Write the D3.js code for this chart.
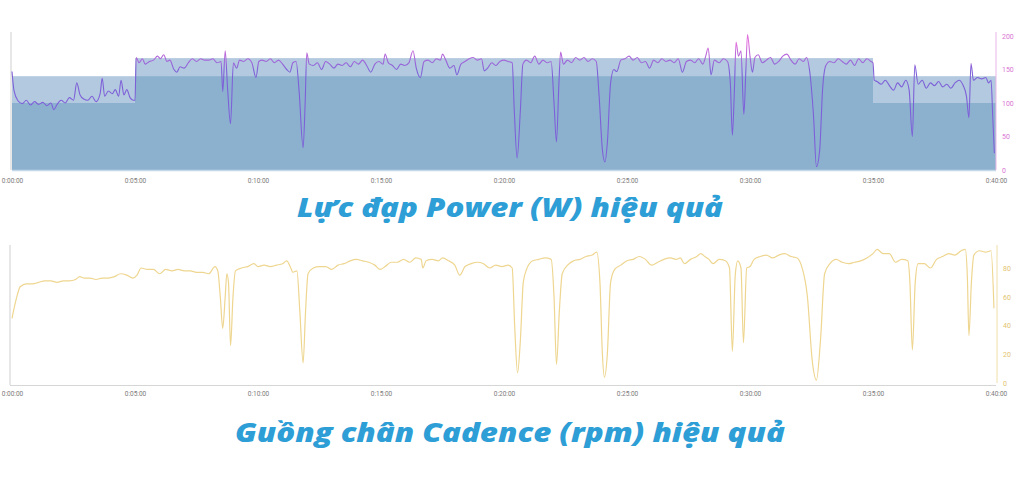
<!DOCTYPE html>
<html>
<head>
<meta charset="utf-8">
<script src="https://cdn.jsdelivr.net/npm/d3@7"></script>
<style>
  body { margin: 0; background: #fff; }
  svg { display: block; }
</style>
</head>
<body>
<svg id="chart" width="1024" height="480"></svg>
<script>
// tick labels for the time axis (shared by both charts)
const timeTicks = ["0:00:00", "0:05:00", "0:10:00", "0:15:00", "0:20:00", "0:25:00", "0:30:00", "0:35:00", "0:40:00"];
const powerTicks = [0, 50, 100, 150, 200];
const cadenceTicks = [0, 20, 40, 60, 80];

// target zones of the workout (minutes, watts)
const zoneStart = [0, 5, 35];
const zoneEnd = [5, 35, 40];
const zoneLow = [100, 140, 100];
const zoneHigh = [140, 167, 140];

// power samples: [m:ss, watts]
const power = [
  ["0:00",147],["0:05",118],["0:15",103],["0:25",99],["0:35",104],["0:45",97],["0:55",102],["1:05",98],["1:15",101],
  ["1:25",96],["1:35",100],["1:42",90],["1:50",98],["2:00",104],["2:10",100],["2:20",108],["2:30",104],["2:38",130],
  ["2:46",112],["2:55",106],["3:05",104],["3:15",110],["3:25",102],["3:35",114],["3:40",137],["3:46",110],["3:55",118],
  ["4:05",114],["4:12",120],["4:20",110],["4:26",134],["4:33",112],["4:40",120],["4:48",108],["4:56",104],["5:00",104],
  ["5:03",168],["5:10",160],["5:18",166],["5:25",158],["5:35",162],["5:45",164],["5:55",170],["6:02",166],["6:10",172],
  ["6:18",162],["6:25",164],["6:35",150],["6:42",146],["6:50",154],["7:00",152],["7:10",160],["7:20",166],["7:30",162],
  ["7:40",166],["7:50",164],["8:00",164],["8:10",166],["8:20",160],["8:30",162],["8:34",117],["8:40",178],["8:46",120],
  ["8:53",69],["9:00",160],["9:08",152],["9:15",164],["9:25",162],["9:35",166],["9:45",160],["9:55",138],["10:02",162],
  ["10:10",164],["10:20",162],["10:30",166],["10:40",160],["10:50",164],["11:00",158],["11:10",150],["11:18",146],
  ["11:25",160],["11:33",162],["11:40",120],["11:50",33],["11:55",100],["11:59",175],["12:05",158],["12:15",156],
  ["12:25",160],["12:35",150],["12:45",162],["12:55",158],["13:05",152],["13:15",158],["13:25",156],["13:35",160],
  ["13:45",154],["13:55",162],["14:05",158],["14:15",164],["14:25",156],["14:35",146],["14:45",158],["14:55",162],
  ["15:05",158],["15:10",173],["15:18",160],["15:28",156],["15:38",150],["15:48",158],["15:58",156],["16:08",160],
  ["16:18",178],["16:26",152],["16:36",138],["16:45",162],["16:55",164],["17:05",160],["17:15",166],["17:25",164],
  ["17:30",173],["17:38",164],["17:48",152],["17:58",156],["18:05",142],["18:15",158],["18:25",162],["18:35",166],
  ["18:45",168],["18:55",164],["19:05",166],["19:12",148],["19:20",152],["19:30",160],["19:40",156],["19:50",162],
  ["20:00",164],["20:10",162],["20:20",160],["20:25",90],["20:32",18],["20:40",90],["20:46",158],["20:55",164],
  ["21:05",160],["21:15",170],["21:25",158],["21:35",164],["21:45",160],["21:55",162],["22:02",100],["22:08",42],
  ["22:14",130],["22:18",176],["22:25",158],["22:35",164],["22:45",160],["22:55",168],["23:05",164],["23:15",168],
  ["23:25",162],["23:35",166],["23:45",162],["23:52",110],["24:00",30],["24:06",12],["24:12",40],["24:20",130],
  ["24:28",150],["24:35",147],["24:45",164],["24:55",166],["25:05",170],["25:15",164],["25:25",168],["25:35",160],
  ["25:45",162],["25:55",152],["26:05",164],["26:15",160],["26:25",166],["26:35",162],["26:45",164],["26:55",160],
  ["27:05",166],["27:15",146],["27:25",162],["27:35",164],["27:45",160],["27:55",166],["28:05",158],["28:12",170],
  ["28:18",182],["28:25",142],["28:33",164],["28:45",160],["28:55",166],["29:05",162],["29:12",130],["29:17",52],
  ["29:22",120],["29:26",191],["29:32",170],["29:38",178],["29:45",83],["29:50",150],["29:54",202],["30:00",170],
  ["30:06",146],["30:12",168],["30:20",172],["30:30",160],["30:40",164],["30:50",168],["31:00",158],["31:10",162],
  ["31:20",170],["31:30",173],["31:40",164],["31:50",158],["32:00",166],["32:10",162],["32:18",168],["32:25",150],
  ["32:35",80],["32:42",5],["32:50",30],["32:57",120],["33:05",156],["33:15",162],["33:25",160],["33:35",166],
  ["33:45",162],["33:55",158],["34:05",164],["34:15",156],["34:25",166],["34:35",160],["34:45",166],["34:55",162],
  ["35:00",160],["35:03",134],["35:10",132],["35:20",128],["35:30",134],["35:40",126],["35:50",119],["36:00",130],
  ["36:10",124],["36:20",134],["36:28",120],["36:36",50],["36:42",157],["36:50",128],["37:00",134],["37:10",122],
  ["37:20",130],["37:30",126],["37:40",132],["37:50",124],["38:00",128],["38:10",122],["38:20",130],["38:30",134],
  ["38:40",126],["38:48",110],["38:54",78],["38:59",159],["39:05",134],["39:15",138],["39:25",136],["39:35",138],
  ["39:42",130],["39:48",134],["39:52",80],["39:56",25]
];

// cadence samples: [m:ss, rpm]
const cadence = [
  ["0:00",45],["0:10",58],["0:20",67],["0:35",69],["0:50",69],["1:05",70],["1:20",71],["1:35",71],["1:50",70],
  ["2:05",71],["2:20",71],["2:35",72],["2:45",74],["2:55",73],["3:10",73],["3:25",72],["3:40",73],["3:55",73],
  ["4:10",74],["4:25",76],["4:40",75],["4:55",73],["5:05",75],["5:15",80],["5:30",79],["5:45",79],["6:00",76],
  ["6:15",79],["6:30",78],["6:45",79],["7:00",78],["7:15",78],["7:30",77],["7:45",77],["8:00",76],["8:15",81],
  ["8:22",78],["8:28",60],["8:34",38],["8:40",60],["8:44",76],["8:48",70],["8:53",26],["8:59",60],["9:05",78],
  ["9:20",80],["9:35",81],["9:50",83],["10:00",81],["10:15",82],["10:30",81],["10:45",82],["11:00",83],["11:10",85],
  ["11:20",80],["11:25",77],["11:35",78],["11:42",50],["11:50",14],["11:56",50],["12:02",76],["12:15",80],["12:30",81],
  ["12:45",81],["13:00",79],["13:15",82],["13:30",83],["13:45",85],["14:00",86],["14:15",85],["14:30",84],["14:45",82],
  ["14:58",79],["15:10",81],["15:25",84],["15:40",84],["15:55",86],["16:10",84],["16:25",87],["16:38",86],["16:42",80],
  ["16:50",85],["17:05",86],["17:20",85],["17:30",87],["17:45",85],["18:00",82],["18:12",75],["18:25",81],["18:40",83],
  ["18:55",84],["19:10",83],["19:25",80],["19:40",82],["19:55",81],["20:10",82],["20:20",80],["20:26",40],["20:33",7],
  ["20:40",30],["20:47",70],["20:55",79],["21:10",85],["21:25",86],["21:40",87],["21:55",86],["22:02",60],["22:08",13],
  ["22:15",50],["22:22",76],["22:35",82],["22:50",85],["23:05",86],["23:20",88],["23:35",89],["23:46",91],["23:54",70],
  ["24:00",20],["24:05",4],["24:12",20],["24:20",70],["24:30",79],["24:45",82],["25:00",85],["25:15",86],["25:30",88],
  ["25:45",86],["26:00",82],["26:15",84],["26:30",86],["26:45",87],["27:00",86],["27:10",87],["27:20",83],["27:35",86],
  ["27:50",88],["28:00",90],["28:10",88],["28:20",86],["28:30",83],["28:45",86],["29:00",85],["29:10",80],["29:17",22],
  ["29:24",75],["29:30",85],["29:38",80],["29:44",28],["29:52",80],["30:00",81],["30:10",86],["30:25",88],["30:40",89],
  ["30:55",87],["31:10",89],["31:25",90],["31:40",88],["31:55",87],["32:05",82],["32:20",60],["32:32",15],["32:42",2],
  ["32:52",30],["33:02",76],["33:15",83],["33:30",86],["33:45",84],["34:00",83],["34:15",84],["34:30",85],["34:45",87],
  ["35:00",90],["35:10",93],["35:25",90],["35:40",90],["35:55",84],["36:10",86],["36:25",85],["36:30",70],["36:36",23],
  ["36:43",70],["36:50",83],["37:05",83],["37:20",80],["37:35",86],["37:50",88],["38:05",90],["38:20",89],["38:35",92],
  ["38:45",93],["38:50",75],["38:54",33],["39:00",70],["39:06",89],["39:20",92],["39:35",91],["39:48",92],["39:55",52]
];

const titles = ["Lực đạp Power (W) hiệu quả", "Guồng chân Cadence (rpm) hiệu quả"];

const toSec = s => { const [m, sec] = s.split(":").map(Number); return m * 60 + sec; };

const svg = d3.select("#chart");
const left = 12, right = 996;

const x = d3.scaleLinear().domain([0, 2400]).range([left, right]);

// ---------- power chart ----------
const yP = d3.scaleLinear().domain([0, 200]).range([170, 36]);

// left axis line
svg.append("line").attr("x1", 11).attr("x2", 11).attr("y1", 32).attr("y2", 170)
   .attr("stroke", "#cfcfcf").attr("stroke-width", 1);

const zones = zoneStart.map((s, i) => ({ s, e: zoneEnd[i], lo: zoneLow[i], hi: zoneHigh[i] }));

svg.selectAll(".zone-hi").data(zones).enter().append("rect")
   .attr("x", d => x(d.s * 60)).attr("width", d => x(d.e * 60) - x(d.s * 60))
   .attr("y", d => yP(d.hi)).attr("height", d => yP(0) - yP(d.hi))
   .attr("fill", "#b3c9df");

svg.selectAll(".zone-lo").data(zones).enter().append("rect")
   .attr("x", d => x(d.s * 60)).attr("width", d => x(d.e * 60) - x(d.s * 60))
   .attr("y", d => yP(d.lo)).attr("height", d => yP(0) - yP(d.lo))
   .attr("fill", "#8cb1cf");

svg.append("line").attr("x1", left).attr("x2", right).attr("y1", 170.5).attr("y2", 170.5)
   .attr("stroke", "#c4d8e8").attr("stroke-width", 1.5);

// line colour turns pink above the zone
const grad = svg.append("defs").append("linearGradient")
   .attr("id", "pgrad").attr("gradientUnits", "userSpaceOnUse")
   .attr("x1", 0).attr("x2", 0).attr("y1", yP(148)).attr("y2", yP(188));
grad.append("stop").attr("offset", "0%").attr("stop-color", "#7d60d8");
grad.append("stop").attr("offset", "100%").attr("stop-color", "#e070dc");

const powerLine = d3.line().x(d => x(toSec(d[0]))).y(d => yP(d[1])).curve(d3.curveMonotoneX);
svg.append("path").datum(power).attr("d", powerLine)
   .attr("fill", "none").attr("stroke", "url(#pgrad)").attr("stroke-width", 1.1);

// right axis
const pAxis = svg.append("g").attr("transform", `translate(${right},0)`)
   .call(d3.axisRight(yP).tickValues(powerTicks).tickSize(0).tickPadding(6));
pAxis.select(".domain").attr("stroke", "#eab6e6").attr("d", `M0,32V170`);
pAxis.selectAll("text").attr("fill", "#d975d4").style("font-size", "7px").style("font-family", "Roboto");

// time axis
const tAxis = d3.axisBottom(x).tickValues(d3.range(0, 2401, 300)).tickSize(0)
   .tickFormat((d, i) => timeTicks[i]);
const ta1 = svg.append("g").attr("transform", "translate(0,175)").call(tAxis);
ta1.select(".domain").remove();
ta1.selectAll("text").attr("fill", "#7a7a7a").style("font-size", "6.5px").style("font-family", "Roboto");

// ---------- cadence chart ----------
const yC = d3.scaleLinear().domain([0, 80]).range([383, 268]);

svg.append("line").attr("x1", 10).attr("x2", 10).attr("y1", 245).attr("y2", 385)
   .attr("stroke", "#cfcfcf").attr("stroke-width", 1);
svg.append("line").attr("x1", 10).attr("x2", right).attr("y1", 385.5).attr("y2", 385.5)
   .attr("stroke", "#d6d6d6").attr("stroke-width", 1);

const cadLine = d3.line().x(d => x(toSec(d[0]))).y(d => yC(d[1])).curve(d3.curveMonotoneX);
svg.append("path").datum(cadence).attr("d", cadLine)
   .attr("fill", "none").attr("stroke", "#eed690").attr("stroke-width", 1.2);

const cAxis = svg.append("g").attr("transform", `translate(${right + 1},0)`)
   .call(d3.axisRight(yC).tickValues(cadenceTicks).tickSize(0).tickPadding(6));
cAxis.select(".domain").attr("stroke", "#f0dfa8").attr("d", `M0,245V383`);
cAxis.selectAll("text").attr("fill", "#e2c470").style("font-size", "7px").style("font-family", "Roboto");

const ta2 = svg.append("g").attr("transform", "translate(0,388)").call(tAxis);
ta2.select(".domain").remove();
ta2.selectAll("text").attr("fill", "#7a7a7a").style("font-size", "6.5px").style("font-family", "Roboto");

// ---------- titles ----------
const titleWidth = [426, 550];
svg.selectAll(".title").data(titles).enter().append("text")
   .attr("x", 510).attr("y", (d, i) => i === 0 ? 217 : 442)
   .attr("text-anchor", "middle")
   .attr("textLength", (d, i) => titleWidth[i]).attr("lengthAdjust", "spacingAndGlyphs")
   .style("font-family", "'Open Sans'").style("font-weight", "800").style("font-style", "italic")
   .style("font-size", "27px").attr("fill", "#2d9ed6")
   .text(d => d);
</script>
</body>
</html>
